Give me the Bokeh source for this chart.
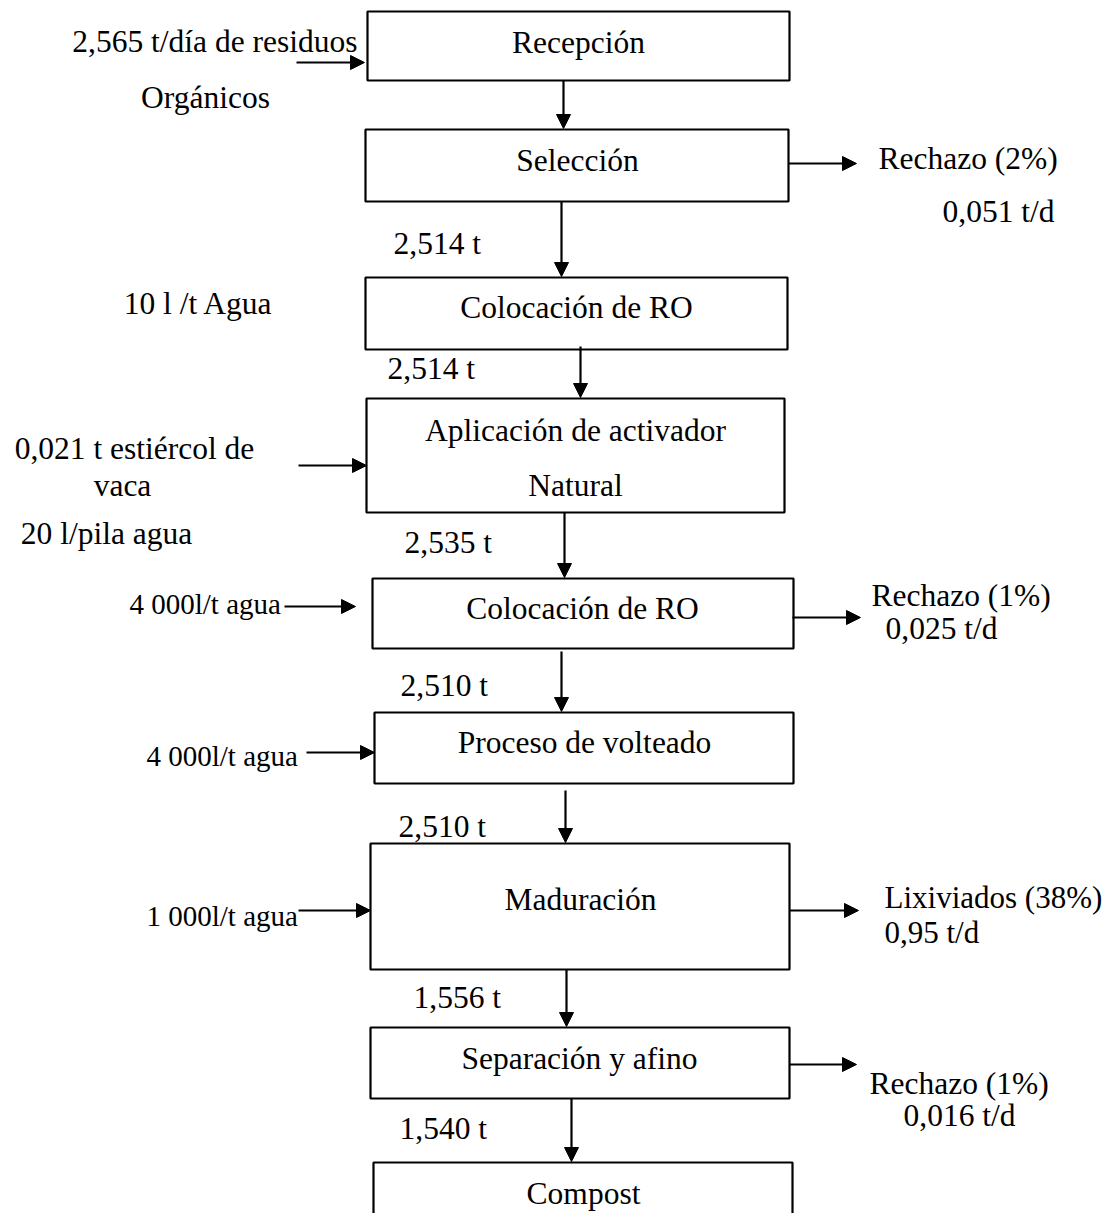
from bokeh.plotting import figure
from bokeh.models import Range1d, Arrow, NormalHead, ColumnDataSource
from bokeh.core.properties import value
from bokeh.embed import file_html
from bokeh.resources import INLINE

# ---------------- data (texts of the flow diagram) ----------------
steps = ["Recepción", "Selección", "Colocación de RO",
         "Aplicación de activador\nNatural", "Colocación de RO",
         "Proceso de volteado", "Maduración", "Separación y afino", "Compost"]
flows = ["2,514 t", "2,514 t", "2,535 t", "2,510 t", "2,510 t", "1,556 t", "1,540 t"]
input_labels = ["2,565 t/día de residuos", "Orgánicos", "10 l /t Agua",
                "0,021 t estiércol de", "vaca", "20 l/pila agua",
                "4 000l/t agua", "4 000l/t agua", "1 000l/t agua"]
output_labels = ["Rechazo (2%)", "0,051 t/d", "Rechazo (1%)", "0,025 t/d",
                 "Lixiviados (38%)", "0,95 t/d", "Rechazo (1%)", "0,016 t/d"]

# ---------------- layout (pixel coordinates) ----------------
box_left = [367, 365, 365, 366, 372, 374, 370, 370, 373]
box_right = [789, 788, 787, 784, 793, 793, 789, 789, 792]
box_top = [11, 129, 277, 398, 578, 712, 843, 1027, 1162]
box_bottom = [80, 201, 349, 512, 648, 783, 969, 1098, 1262]
step_tx = [578, 577, 576, 575, 582, 584, 580, 579, 583]
step_ty = [42, 160, 307, 430, 608, 742, 899, 1058, 1193]
step_line_gap = 55

down_x = [563, 561, 580, 564, 561, 565, 566, 571]
down_y0 = [80, 201, 346, 512, 651, 790, 969, 1098]
down_y1 = [128, 276, 397, 577, 711, 842, 1026, 1161]

flow_x = [393, 387, 404, 400, 398, 413, 399]
flow_y = [243, 368, 542, 685, 826, 997, 1128]

in_x = [357, 205, 198, 134, 122, 106, 129, 146, 146]
in_y = [41, 97, 303, 448, 485, 533, 603, 755, 915]
in_align = ["right", "center", "center", "center", "center", "center", "left", "left", "left"]
in_size = ["31.5px"] * 6 + ["29px"] * 3
in_arrow_x0 = [296, 298, 284, 306, 298]
in_arrow_x1 = [364, 366, 355, 374, 370]
in_arrow_y = [62, 465, 606, 752, 910]

out_x = [878, 942, 871, 885, 884, 884, 869, 903]
out_y = [158, 211, 595, 628, 897, 932, 1083, 1115]
out_size = ["31.5px"] * 4 + ["31px"] * 2 + ["31.5px"] * 2
out_arrow_x0 = [788, 792, 789, 789]
out_arrow_x1 = [856, 860, 858, 856]
out_arrow_y = [163, 617, 910, 1064]

FONT = value("Liberation Serif")
W, H = 1102, 1213

p = figure(width=W, height=H, output_backend="svg", toolbar_location=None,
           x_range=Range1d(0, W), y_range=Range1d(H, 0),
           min_border=0, background_fill_color="white",
           border_fill_color="white", outline_line_color=None)
p.axis.visible = False
p.grid.visible = False

# boxes
p.quad(left=box_left, right=box_right, top=box_top, bottom=box_bottom,
       fill_color="white", line_color="black", line_width=2.2)

# box labels (multi-line labels split into lines)
sx, sy, st = [], [], []
for lab, x, y in zip(steps, step_tx, step_ty):
    for k, line in enumerate(lab.split("\n")):
        sx.append(x)
        sy.append(y + k * step_line_gap)
        st.append(line)
p.text(x=sx, y=sy, text=st, text_font=FONT, text_font_size="31.5px",
       text_align="center", text_baseline="middle", text_color="black")

# flow mass labels
p.text(x=flow_x, y=flow_y, text=flows, text_font=FONT, text_font_size="31.5px",
       text_align="left", text_baseline="middle", text_color="black")

# inputs
src_in = ColumnDataSource(dict(x=in_x, y=in_y, text=input_labels, align=in_align, size=in_size))
p.text(x="x", y="y", text="text", text_align="align", text_font_size="size",
       source=src_in, text_font=FONT, text_baseline="middle", text_color="black")

# outputs
src_out = ColumnDataSource(dict(x=out_x, y=out_y, text=output_labels, size=out_size))
p.text(x="x", y="y", text="text", text_font_size="size", source=src_out,
       text_font=FONT, text_align="left", text_baseline="middle", text_color="black")


def arrow(x0, y0, x1, y1):
    p.add_layout(Arrow(end=NormalHead(size=14, fill_color="black", line_color="black",
                                      line_width=1),
                       x_start=x0, y_start=y0, x_end=x1, y_end=y1,
                       line_color="black", line_width=2.2))


for x, a, b in zip(down_x, down_y0, down_y1):
    arrow(x, a, x, b)
for a, b, y in zip(in_arrow_x0, in_arrow_x1, in_arrow_y):
    arrow(a, y, b, y)
for a, b, y in zip(out_arrow_x0, out_arrow_x1, out_arrow_y):
    arrow(a, y, b, y)

open("out.html", "w").write(file_html(p, INLINE))
